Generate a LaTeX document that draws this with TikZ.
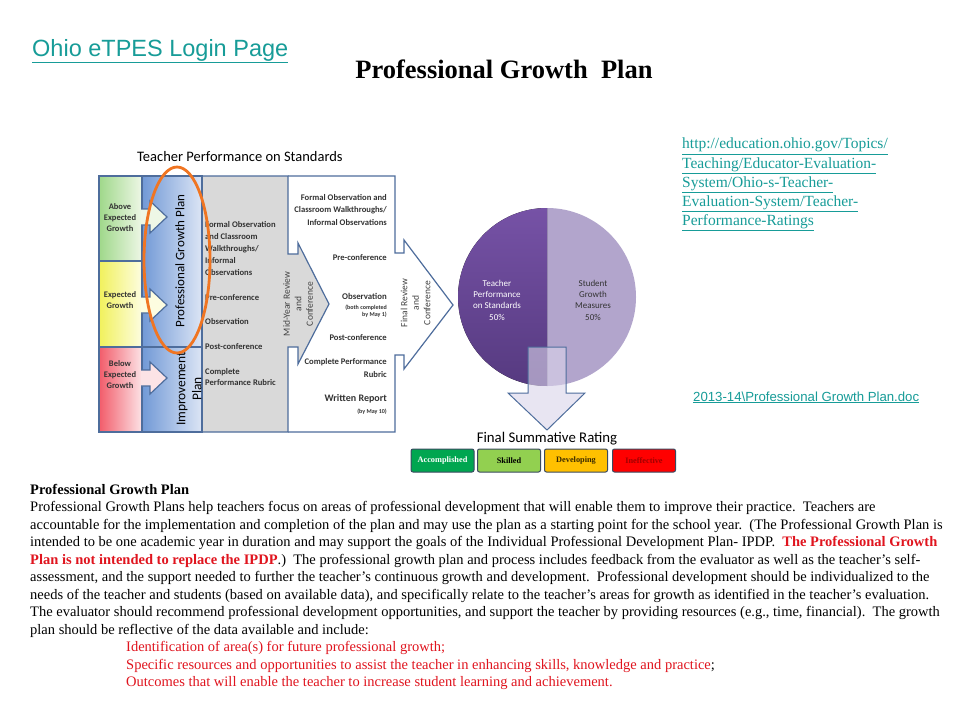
\documentclass[tikz,border=0pt]{standalone}
\usepackage{fontspec}
\setmainfont{Liberation Serif}
\newfontfamily\arialfont{Liberation Sans}
\newfontfamily\calibrifont{Carlito}
\definecolor{linkteal}{HTML}{179C98}
\definecolor{frameblue}{HTML}{4E6D9C}
\definecolor{cellgray}{HTML}{D9D9D9}
\definecolor{blueL}{HTML}{7199D6}
\definecolor{blueR}{HTML}{DCE5F5}
\definecolor{greenL}{HTML}{9FD88A}
\definecolor{greenR}{HTML}{EEF7E6}
\definecolor{yellowL}{HTML}{F1F15C}
\definecolor{yellowR}{HTML}{FDFDE0}
\definecolor{redL}{HTML}{F25C6A}
\definecolor{redR}{HTML}{FCE3E6}
\definecolor{ringorange}{HTML}{F07522}
\definecolor{pietop}{HTML}{7652A6}
\definecolor{piebot}{HTML}{563A80}
\definecolor{pielight}{HTML}{B2A5CC}
\definecolor{downfill}{HTML}{DAD5EA}
\definecolor{rategreen}{HTML}{00A650}
\definecolor{ratelime}{HTML}{92D050}
\definecolor{rateamber}{HTML}{FFC000}
\definecolor{ratered}{HTML}{FF0000}
\definecolor{rateedge}{HTML}{3A4A60}
\definecolor{devtext}{HTML}{3A2A00}
\definecolor{inefftext}{HTML}{A00000}
\definecolor{bodyred}{HTML}{E0141E}
\definecolor{txtdark}{HTML}{333333}
\definecolor{txtgray}{HTML}{404040}
\usetikzlibrary{positioning}

\begin{document}
\begin{tikzpicture}[x=1pt,y=-1pt,
  frame/.style={draw=frameblue,line width=1.2pt},
  celltxt/.style={font=\calibrifont\bfseries\fontsize{8.5}{11}\selectfont,text=txtdark,align=center,inner sep=0},
  steptxt/.style={font=\calibrifont\bfseries\fontsize{8.6}{10}\selectfont,text=txtdark,inner sep=0},
  smalltxt/.style={font=\calibrifont\bfseries\fontsize{6}{7}\selectfont,text=txtdark,inner sep=0},
  reviewtxt/.style={font=\calibrifont\fontsize{9.5}{11.5}\selectfont,text=txtgray,align=center,rotate=90,inner sep=0},
  pietxt/.style={font=\calibrifont\fontsize{9}{11.3}\selectfont,align=center,inner sep=0},
  ratebox/.style={draw=rateedge,line width=1pt,rounded corners=2pt,minimum width=63pt,minimum height=23pt,inner sep=0,font=\bfseries\fontsize{8.3}{9}\selectfont},
  linktxt/.style={text=linkteal,inner sep=0}]
  \useasboundingbox [fill=white] (0,0) rectangle (960,720);

  \node [linktxt,anchor=base west,font=\arialfont\fontsize{23.5}{27}\selectfont] (login) at (32,56) {\underline{Ohio eTPES Login Page}};
  \node [anchor=base,inner sep=0,font=\bfseries\fontsize{26.5}{30}\selectfont] (title) at (504,78) {Professional Growth\ \ Plan};

  \node [anchor=base west,inner sep=0,font=\calibrifont\fontsize{14.5}{16}\selectfont] (tps) at (137,161) {Teacher Performance on Standards};

  \draw [frame,fill=white] (288,176)--(395,176)--(395,253)--(404,253)--(404,240)--(453,305)--(404,369)--(404,355)--(395,355)--(395,432)--(288,432);
  \draw [frame,fill=cellgray] (202,176)--(288,176)--(288,254)--(298,254)--(298,243)--(329,304)--(298,364)--(298,347)--(288,347)--(288,432)--(202,432);
  \draw [frame,left color=blueL,right color=blueR] (142,176) rectangle (202,347);
  \draw [frame,left color=blueL,right color=blueR] (142,347) rectangle (202,432);
  \draw [frame,left color=greenL,right color=greenR] (99,176) rectangle (142,261);
  \draw [frame,left color=yellowL,right color=yellowR] (99,261) rectangle (142,347);
  \draw [frame,left color=redL,right color=redR] (99,347) rectangle (142,432);
  \foreach \yy/\cc in {217/greenR,305/yellowR,378/redR}
    \draw [frame,fill=\cc] (141,\yy-8)--(150,\yy-8)--(150,\yy-16)--(167,\yy)--(150,\yy+16)--(150,\yy+8)--(141,\yy+8);

  \node [celltxt] (above) at (120,218) {Above\\Expected\\Growth};
  \node [celltxt] (expected) at (120,300) {Expected\\Growth};
  \node [celltxt] (below) at (120,375) {Below\\Expected\\Growth};

  \node [rotate=90,inner sep=0,font=\calibrifont\fontsize{13}{15}\selectfont] (pgp) at (180,261) {Professional Growth Plan};
  \node [rotate=90,inner sep=0,align=center,font=\calibrifont\fontsize{13.4}{16}\selectfont] (improve) at (189,389) {Improvement\\Plan};

  \node [steptxt,anchor=west,align=left,font=\calibrifont\bfseries\fontsize{8.6}{12}\selectfont] (formalA) at (205,249) {Formal Observation\\and Classroom\\Walkthroughs/\\Informal\\Observations};
  \node [steptxt,anchor=west] (preA) at (205,298) {Pre-conference};
  \node [steptxt,anchor=west] (obsA) at (205,322) {Observation};
  \node [steptxt,anchor=west] (postA) at (205,347) {Post-conference};
  \node [steptxt,anchor=west,align=left,font=\calibrifont\bfseries\fontsize{8.6}{11}\selectfont] (rubricA) at (205,377.5) {Complete\\Performance Rubric};

  \node [reviewtxt] (midyear) at (298,304) {Mid-Year Review\\and\\Conference};
  \node [reviewtxt] (finalrev) at (415.5,303) {Final Review\\and\\Conference};

  \node [steptxt,anchor=east,align=right,font=\calibrifont\bfseries\fontsize{8.6}{12.3}\selectfont] (formalB) at (387,210) {Formal Observation and\\Classroom Walkthroughs/\\Informal Observations};
  \node [steptxt,anchor=east] (preB) at (387,258) {Pre-conference};
  \node [steptxt,anchor=east,font=\calibrifont\bfseries\fontsize{8.8}{11}\selectfont] (obsB) at (387,296) {Observation};
  \node [smalltxt,anchor=east,align=right] (obsdate) at (387,311) {(both completed\\by May 1)};
  \node [steptxt,anchor=east] (postB) at (387,338) {Post-conference};
  \node [steptxt,anchor=east,align=right,font=\calibrifont\bfseries\fontsize{8.6}{13}\selectfont] (rubricB) at (387,368.5) {Complete Performance\\Rubric};
  \node [steptxt,anchor=east,font=\calibrifont\bfseries\fontsize{10}{12}\selectfont] (report) at (387,399) {Written Report};
  \node [smalltxt,anchor=east] (reportdate) at (387,412) {(by May 10)};

  \draw [ringorange,line width=2.8pt] (177,260) ellipse [x radius=33,y radius=93];

  \fill [pielight] (547,208) arc [start angle=270,end angle=450,radius=89] -- cycle;
  \fill [top color=pietop,bottom color=piebot] (547,208) arc [start angle=270,end angle=90,radius=89] -- cycle;
  \node [pietxt,text=white] (tpsshare) at (497,300) {Teacher\\Performance\\on Standards\\50\%};
  \node [pietxt,text=txtdark] (sgmshare) at (593,300) {Student\\Growth\\Measures\\50\%};

  \draw [frame,line width=1pt,fill=downfill,fill opacity=0.6] (528,347)--(566,347)--(566,393)--(585,393)--(547,430)--(508,393)--(528,393)--cycle;
  \node [anchor=base,inner sep=0,font=\calibrifont\fontsize{14.8}{16}\selectfont] (fsr) at (547,442) {Final Summative Rating};

  \foreach \xx/\nm/\fc/\tc [count=\i] in {442.5/Accomplished/rategreen/white,509/Skilled/ratelime/black,576/Developing/rateamber/devtext,644/Ineffective/ratered/inefftext}
    \node [ratebox,fill=\fc,text=\tc] (rate\i) at (\xx,460.5) {\nm};

  \node [linktxt,anchor=north west,align=left,font=\fontsize{15.5}{19.2}\selectfont] (odeurl) at (682,138) {\underline{http://education.ohio.gov/Topics/}\\\underline{Teaching/Educator-Evaluation-}\\\underline{System/Ohio-s-Teacher-}\\\underline{Evaluation-System/Teacher-}\\\underline{Performance-Ratings}};
  \node [linktxt,anchor=base west,font=\arialfont\fontsize{13.2}{15}\selectfont] (docurl) at (693,401) {\underline{2013-14\textbackslash Professional Growth Plan.doc}};

  \node [anchor=north west,inner sep=0,align=left,font=\fontsize{14.5}{17.5}\selectfont] (body) at (30,484) {%
\textbf{Professional Growth Plan}\\
Professional Growth Plans help teachers focus on areas of professional development that will enable them to improve their practice.\ \ Teachers are\\
accountable for the implementation and completion of the plan and may use the plan as a starting point for the school year.\ \ (The Professional Growth Plan is\\
intended to be one academic year in duration and may support the goals of the Individual Professional Development Plan- IPDP.\ \ {\color{bodyred}\bfseries The Professional Growth}\\
{\color{bodyred}\bfseries Plan is not intended to replace the IPDP}.)\ \ The professional growth plan and process includes feedback from the evaluator as well as the teacher’s self-\\
assessment, and the support needed to further the teacher’s continuous growth and development.\ \ Professional development should be individualized to the\\
needs of the teacher and students (based on available data), and specifically relate to the teacher’s areas for growth as identified in the teacher’s evaluation.\\
The evaluator should recommend professional development opportunities, and support the teacher by providing resources (e.g., time, financial).\ \ The growth\\
plan should be reflective of the data available and include:\\
\hspace*{96pt}{\color{bodyred}Identification of area(s) for future professional growth;}\\
\hspace*{96pt}{\color{bodyred}Specific resources and opportunities to assist the teacher in enhancing skills, knowledge and practice};\\
\hspace*{96pt}{\color{bodyred}Outcomes that will enable the teacher to increase student learning and achievement.}};
\end{tikzpicture}
\end{document}
